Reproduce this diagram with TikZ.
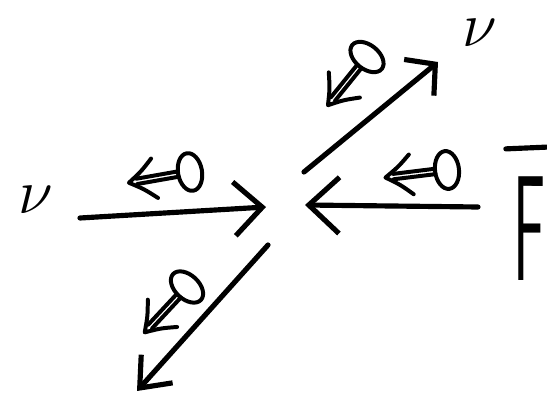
\RequirePackage{fix-cm}
\documentclass[tikz,border=0pt]{standalone}
\usetikzlibrary{arrows.meta}
\begin{document}
\begin{tikzpicture}[x=0.03cm, y=-0.03cm,
  leg/.style={line width=4.4pt, line cap=round, line join=round},
  spin/.style={line width=3.4pt, line cap=round, line join=round},
  nutext/.style={inner sep=0pt, font=\fontsize{54}{54}\selectfont},
  ftext/.style={inner sep=0pt, xscale=0.4, font=\fontsize{128}{128}\selectfont\sffamily}]
\tikzset{spinarrow/.pic={
  \draw[spin] (0,0) ellipse [x radius=12, y radius=19];
  \draw[spin] (-12,-2.7) -- (-54,-2.7) (-12,2.7) -- (-54,2.7);
  \draw[spin] (-36,-20) .. controls (-48,-9) .. (-62,0) .. controls (-48,9) .. (-36,20);
}}
\useasboundingbox (0,0) rectangle (547,398);

% end points of the legs
\coordinate (lstart) at (80,218);
\coordinate (ltip) at (266,207);
\coordinate (rstart) at (478,207);
\coordinate (rtip) at (305,205);
\coordinate (ustart) at (304,172);
\coordinate (utip) at (438,62);
\coordinate (dstart) at (268,245);
\coordinate (dtip) at (137,391);

\node[nutext] (nuright) at (480,33) {$\nu$};
\node[nutext] (nuleft) at (36,200) {$\nu$};
\node[ftext] (fbar) at (530,229) {F};
\draw[leg] ([shift={(-8,-28)}]fbar.north west) -- ([shift={(6,-30)}]fbar.north east);

% legs
\draw[leg, -{Straight Barb[length=24pt, width=46pt]}] (lstart) -- (ltip);
\draw[leg, -{Straight Barb[length=26pt, width=48pt]}] (rstart) -- (rtip);
\draw[leg, -{Straight Barb[length=18pt, width=40pt]}] (ustart) -- (utip);
\draw[leg, -{Straight Barb[length=22pt, width=36pt]}] (dstart) -- (dtip);

% spins
\pic[rotate=10] at (190,172) {spinarrow};
\pic[rotate=7] at (447,170) {spinarrow};
\pic[rotate=51] at (367,57) {spinarrow};
\pic[rotate=47] at (187,287) {spinarrow};

\end{tikzpicture}
\end{document}
